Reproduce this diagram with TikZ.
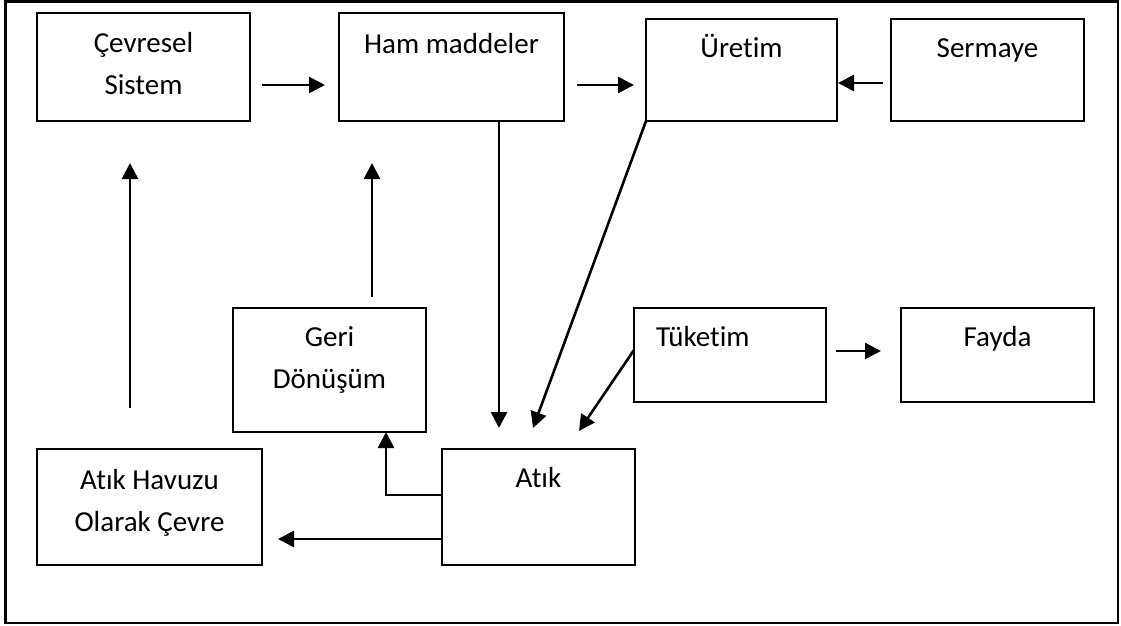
\documentclass[tikz,border=0pt]{standalone}
\usepackage{fontspec}
\setmainfont{Carlito}[Ligatures=NoCommon]
\usetikzlibrary{arrows.meta,calc}
\begin{document}
\begin{tikzpicture}[x=1pt,y=-1pt,
  box/.style={draw=black, line width=1.8pt, rectangle, anchor=north west,
    inner sep=0pt, outer sep=0pt, align=center, text height=20pt,
    font=\fontsize{29}{42}\selectfont},
  twoline/.style={text height=62pt},
  flow/.style={draw=black, line width=2.6pt, -{Triangle[length=16pt,width=16pt]}},
]
\useasboundingbox (0,0) rectangle (1121,626);
% outer frame
\draw[line width=2.8pt] (5.3,1.4) rectangle (1118,623);

% top row
\node[box, twoline, minimum width=213pt, minimum height=108pt, text depth=8pt] (cev) at (37,13) {Çevresel\\Sistem};
\node[box, minimum width=225pt, minimum height=108pt, text depth=48pt] (ham) at (339,13) {Ham maddeler};
\node[box, minimum width=191pt, minimum height=102pt, text depth=44pt] (uret) at (646,19) {Üretim};
\node[box, minimum width=193pt, minimum height=102pt, text depth=44pt] (serm) at (891,19) {Sermaye};

% middle row
\node[box, twoline, minimum width=193pt, minimum height=124pt, text depth=26pt] (geri) at (233,308) {Geri\\Dönüşüm};
\node[box, minimum width=192pt, minimum height=94pt, text depth=38pt, text width=148pt, align=left] (tuk) at (634,308) {Tüketim};
\node[box, minimum width=193pt, minimum height=94pt, text depth=38pt] (fayda) at (901,308) {Fayda};

% bottom row
\node[box, twoline, minimum width=225pt, minimum height=116pt, text depth=14pt] (havuz) at (37,449) {Atık Havuzu\\Olarak Çevre};
\node[box, minimum width=193pt, minimum height=116pt, text depth=60pt] (atik) at (442,449) {Atık};

% flows along the top row
\draw[flow] ($(cev.east)+(12,18)$) -- ($(ham.west)+(-14,18)$);
\draw[flow] ($(ham.east)+(13,18)$) -- ($(uret.west)+(-12,15)$);
\draw[flow] ($(serm.west)+(-8,13)$) -- ($(uret.east)+(1,13)$);

% flows into the waste box
\draw[flow] ($(ham.south)+(47.5,0)$) -- ($(atik.north)+(-39.5,-21)$);
\draw[flow] (uret.south west) -- ($(atik.north)+(-5.5,-21)$);
\draw[flow] ($(tuk.west)+(0,-5)$) -- ($(atik.north)+(40.5,-18)$);
\draw[flow] ($(tuk.east)+(10,-4)$) -- ($(fayda.west)+(-20,-4)$);

% flows out of the waste box
\draw[flow] ($(atik.west)+(0,-12)$) -| ($(geri.south)+(56.5,0)$);
\draw[flow] ($(atik.west)+(0,32)$) -- ($(havuz.east)+(16,32)$);

% return flows
\draw[flow] ($(geri.north)+(42.5,-11)$) -- ($(ham.south west)+(33,42)$);
\draw[flow] ($(havuz.north)+(-19.5,-41)$) -- ($(cev.south)+(-13.5,42)$);
\end{tikzpicture}
\end{document}
